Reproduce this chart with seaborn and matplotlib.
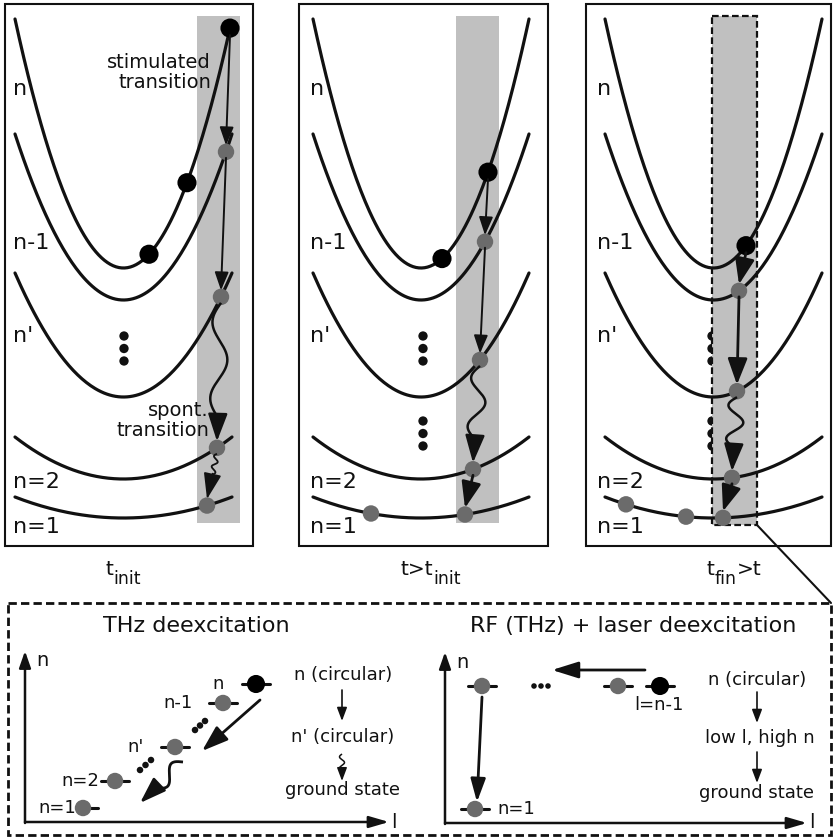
import numpy as np
import pandas as pd
import matplotlib
matplotlib.use("Agg")
import matplotlib.pyplot as plt
import seaborn as sns
from matplotlib.patches import Rectangle, FancyArrowPatch

# ---------------- data (pixel layout of the schematic) ----------------
levels = ["n", "n-1", "n'", "n=2", "n=1"]
level_top = [19, 134, 273, 437, 497]        # y of parabola ends
level_bottom = [268, 300, 397, 479, 518]    # y of parabola vertex
level_label_y = [89, 243, 336, 482, 527]
panel_x0 = [15, 313, 605]
panel_x1 = [232, 529, 822]
panel_n_end = [230, 529, 822]               # right end of the "n" curve
panel_box = [(5, 253), (299, 548), (586, 831)]
panel_label_x = [13, 310, 597]
band_x = [(197, 240), (456, 499), (712, 757)]
# title pieces: (text, is_subscript)
panel_titles = [
    [("t", 0), ("init", 1)],
    [("t>t", 0), ("init", 1)],
    [("t", 0), ("fin", 1), (">t", 0)],
]
panel_title_x = [123, 431, 734]
ellipsis_x = [124, 423, 712]
ellipsis_rows = [[336], [336, 421], [336, 421]]

# dots: (x, level index, black?)
panel_dots = [
    [(230, 0, 1), (187, 0, 1), (149, 0, 1), (226, 1, 0), (221, 2, 0), (217, 3, 0), (207, 4, 0)],
    [(488, 0, 1), (442, 0, 1), (485, 1, 0), (480, 2, 0), (473, 3, 0), (465, 4, 0), (371, 4, 0)],
    [(746, 0, 1), (739, 1, 0), (737, 2, 0), (732, 3, 0), (723, 4, 0), (686, 4, 0), (626, 4, 0)],
]
# transitions: (from dot index, to dot index, kind, size)
panel_arrows = [
    [(0, 3, "straight", "thin"), (3, 4, "straight", "thin"), (4, 5, "wavy", "big"), (5, 6, "wavy_small", "big")],
    [(0, 2, "straight", "thin"), (2, 3, "straight", "thin"), (3, 4, "wavy", "big"), (4, 5, "straight", "big")],
    [(0, 1, "straight", "big"), (1, 2, "straight", "big"), (2, 3, "wavy", "big"), (3, 4, "straight", "big")],
]

thz_labels = ["n", "n-1", "n'", "n=2", "n=1"]
thz_x = [256, 223, 175, 115, 83]
thz_y = [684, 703, 747, 781, 808]
thz_label_right = [224, 193, 144, 99, 76]
thz_dash = [(242, 270), (209, 237), (161, 189), (101, 129), (76, 98)]

rf_x = [482, 618, 660, 475]
rf_y = [686, 686, 686, 809]
rf_black = [0, 0, 1, 0]

GRAY = "#6b6b6b"
BAND = "#c0c0c0"
INK = "#111111"

sns.set_theme(style="white")
plt.rcParams["font.family"] = ["DejaVu Sans"]
plt.rcParams["mathtext.fontset"] = "dejavusans"

fig = plt.figure(figsize=(8.33, 8.39), dpi=100)
ax = fig.add_axes([0, 0, 1, 1])
ax.set_xlim(0, 833)
ax.set_ylim(839, 0)
ax.axis("off")
renderer = fig.canvas.get_renderer()


def curve_y(p, lvl, x):
    x0, x1 = panel_x0[p], panel_x1[p]
    xc, half = (x0 + x1) / 2, (x1 - x0) / 2
    a = (level_bottom[lvl] - level_top[lvl]) / half ** 2
    return level_bottom[lvl] - a * (np.asarray(x) - xc) ** 2


def arrow(p0, p1, lw=1.5, hl=10, hw=4, color=INK, z=6):
    ax.add_patch(FancyArrowPatch(p0, p1, arrowstyle=f"-|>,head_length={hl},head_width={hw}",
                                 mutation_scale=1, lw=lw, color=color,
                                 shrinkA=0, shrinkB=0, zorder=z))


def wavy(p0, p1, amp, nhalf, lw, hl, hw, head_px):
    p0, p1 = np.array(p0, float), np.array(p1, float)
    d = p1 - p0
    L = np.hypot(*d)
    u = d / L
    nrm = np.array([-u[1], u[0]])
    t = np.linspace(0, 1, 200)
    s = t * (L - head_px)
    pts = p0 + np.outer(s, u) + np.outer(amp * np.sin(np.pi * nhalf * t), nrm)
    ax.plot(pts[:, 0], pts[:, 1], color=INK, lw=lw, zorder=6, solid_capstyle="butt")
    arrow(pts[-1] - u * 1.0, p1, lw=lw, hl=hl, hw=hw)


def pieced_title(xc, base_y, pieces):
    # draw text pieces side by side; subscripts are lowered and slightly smaller
    arts = []
    for txt, sub in pieces:
        a = ax.text(0, base_y + (9 if sub else 0), txt, fontsize=12.5 if sub else 14.5,
                    ha="left", va="baseline", color=INK)
        arts.append(a)
    widths = [a.get_window_extent(renderer).width for a in arts]
    total = sum(widths)
    x = xc - total / 2
    for a, w in zip(arts, widths):
        a.set_x(x)
        x += w


# ---------------- top panels ----------------
for p in range(3):
    bx0, bx1 = panel_box[p]
    ax.add_patch(Rectangle((bx0, 4), bx1 - bx0, 542, fill=False, ec=INK, lw=1.5, zorder=7))
    b0, b1 = band_x[p]
    if p == 2:
        ax.add_patch(Rectangle((b0, 16), b1 - b0, 509, fc=BAND, ec=INK, lw=1.6,
                               ls=(0, (3, 1.5)), zorder=2))
    else:
        ax.add_patch(Rectangle((b0, 16), b1 - b0, 507, fc=BAND, ec="none", zorder=2))

    rows = []
    for lvl in range(5):
        xend = panel_n_end[p] if lvl == 0 else panel_x1[p]
        xs = np.linspace(panel_x0[p], xend, 150)
        rows.append(pd.DataFrame({"x": xs, "y": curve_y(p, lvl, xs), "curve": levels[lvl]}))
    df = pd.concat(rows)
    sns.lineplot(data=df, x="x", y="y", units="curve", estimator=None, sort=False,
                 color=INK, lw=2.3, ax=ax, legend=False, zorder=3)

    for lvl in range(5):
        ax.text(panel_label_x[p], level_label_y[lvl], levels[lvl], fontsize=16,
                ha="left", va="center", color=INK, zorder=8)

    for yy in ellipsis_rows[p]:
        ey = [yy, yy + 12.5, yy + 25]
        ax.scatter([ellipsis_x[p]] * 3, ey, s=45, color=INK, edgecolor="none", zorder=1)

    dots = panel_dots[p]
    xs = np.array([d[0] for d in dots], float)
    ys = np.array([curve_y(p, d[1], d[0]) for d in dots])
    blk = np.array([d[2] for d in dots]) == 1
    sns.scatterplot(x=xs[blk], y=ys[blk], s=190, color="black", edgecolor="none", ax=ax, zorder=5)
    sns.scatterplot(x=xs[~blk], y=ys[~blk], s=140, color=GRAY, edgecolor="none", ax=ax, zorder=5)

    for i, j, kind, size in panel_arrows[p]:
        r_i = 7 if blk[i] else 6
        r_j = 7 if blk[j] else 6.5
        p0 = (xs[i], ys[i] + r_i)
        p1 = (xs[j], ys[j] - r_j)
        if kind == "straight":
            if size == "thin":
                arrow(p0, p1, lw=1.4, hl=11, hw=4.2)
            else:
                arrow(p0, p1, lw=2.0, hl=16, hw=6)
        elif kind == "wavy":
            wavy(p0, p1, amp=8, nhalf=3, lw=1.8, hl=17, hw=6, head_px=24)
        else:
            wavy(p0, p1, amp=2.5, nhalf=4, lw=1.3, hl=16, hw=5.5, head_px=25)

    pieced_title(panel_title_x[p], 575, panel_titles[p])

ax.text(211, 63, "stimulated", fontsize=14, ha="right", va="center", color=INK, zorder=8)
ax.text(211, 83, "transition", fontsize=14, ha="right", va="center", color=INK, zorder=8)
ax.text(209, 410, "spont.", fontsize=14, ha="right", va="center", color=INK, zorder=8)
ax.text(209, 430, "transition", fontsize=14, ha="right", va="center", color=INK, zorder=8)

# connector line from zoom rectangle to lower box
ax.plot([757, 831], [525, 603], color=INK, lw=1.5, zorder=7)

# ---------------- lower box ----------------
ax.add_patch(Rectangle((8, 603), 823, 232, fill=False, ec=INK, lw=2.0,
                       ls=(0, (3, 1.5)), zorder=7))

# left sub-diagram: THz deexcitation
ax.text(196, 626, "THz deexcitation", fontsize=16, ha="center", va="center", color=INK)
arrow((25, 823), (25, 651), lw=1.8, hl=10, hw=3.5)
arrow((25, 822), (389, 822), lw=1.8, hl=12, hw=3.5)
ax.text(36, 660, "n", fontsize=14, ha="left", va="center", color=INK)
ax.text(391, 822, "l", fontsize=14, ha="left", va="center", color=INK)

for lab, y, xr, (d0, d1) in zip(thz_labels, thz_y, thz_label_right, thz_dash):
    ax.plot([d0, d1], [y, y], color=INK, lw=2.2, zorder=4)
    ax.text(xr, y, lab, fontsize=13, ha="right", va="center", color=INK)
sns.scatterplot(x=[thz_x[0]], y=[thz_y[0]], s=170, color="black", edgecolor="none", ax=ax, zorder=5)
sns.scatterplot(x=thz_x[1:], y=thz_y[1:], s=140, color=GRAY, edgecolor="none", ax=ax, zorder=5)
for ex, ey in [(195, 730), (200, 725.5), (205, 721), (140, 770), (145.5, 765), (151, 760)]:
    ax.scatter([ex], [ey], s=22, color=INK, edgecolor="none", zorder=5)
arrow((260, 700), (202, 751), lw=2.0, hl=16, hw=5.5)
wavy((183, 762), (140, 803), amp=7, nhalf=2, lw=2.0, hl=16, hw=5.5, head_px=22)

ax.text(343, 675, "n (circular)", fontsize=13, ha="center", va="center", color=INK)
arrow((342, 690), (342, 721), lw=1.2, hl=8, hw=3)
ax.text(343, 737, "n' (circular)", fontsize=13, ha="center", va="center", color=INK)
wavy((342, 754), (342, 781), amp=2.5, nhalf=3, lw=1.1, hl=8, hw=3, head_px=10)
ax.text(343, 790, "ground state", fontsize=13, ha="center", va="center", color=INK)

# right sub-diagram: RF (THz) + laser deexcitation
ax.text(633, 626, "RF (THz) + laser deexcitation", fontsize=16, ha="center", va="center", color=INK)
arrow((445, 824), (445, 652), lw=1.8, hl=10, hw=3.5)
arrow((445, 823), (807, 823), lw=1.8, hl=12, hw=3.5)
ax.text(456, 662, "n", fontsize=14, ha="left", va="center", color=INK)
ax.text(809, 823, "l", fontsize=14, ha="left", va="center", color=INK)

for x, y in zip(rf_x, rf_y):
    ax.plot([x - 14, x + 14], [y, y], color=INK, lw=2.2, zorder=4)
sns.scatterplot(x=[rf_x[2]], y=[rf_y[2]], s=170, color="black", edgecolor="none", ax=ax, zorder=5)
sns.scatterplot(x=[rf_x[0], rf_x[1], rf_x[3]], y=[rf_y[0], rf_y[1], rf_y[3]], s=140,
                color=GRAY, edgecolor="none", ax=ax, zorder=5)
ax.scatter([534, 541, 548], [686, 686, 686], s=16, color=INK, edgecolor="none", zorder=5)
ax.text(634, 705, "l=n-1", fontsize=13, ha="left", va="center", color=INK)
ax.text(497, 809, "n=1", fontsize=13, ha="left", va="center", color=INK)
arrow((645, 670), (552, 670), lw=2.0, hl=16, hw=5)
arrow((482, 697), (477, 802), lw=2.0, hl=14, hw=4.5)

ax.text(757, 680, "n (circular)", fontsize=13, ha="center", va="center", color=INK)
arrow((757, 692), (757, 723), lw=1.2, hl=8, hw=3)
ax.text(760, 738, "low l, high n", fontsize=13, ha="center", va="center", color=INK)
arrow((757, 752), (757, 783), lw=1.2, hl=8, hw=3)
ax.text(757, 793, "ground state", fontsize=13, ha="center", va="center", color=INK)

fig.savefig("out.png", dpi=100)
